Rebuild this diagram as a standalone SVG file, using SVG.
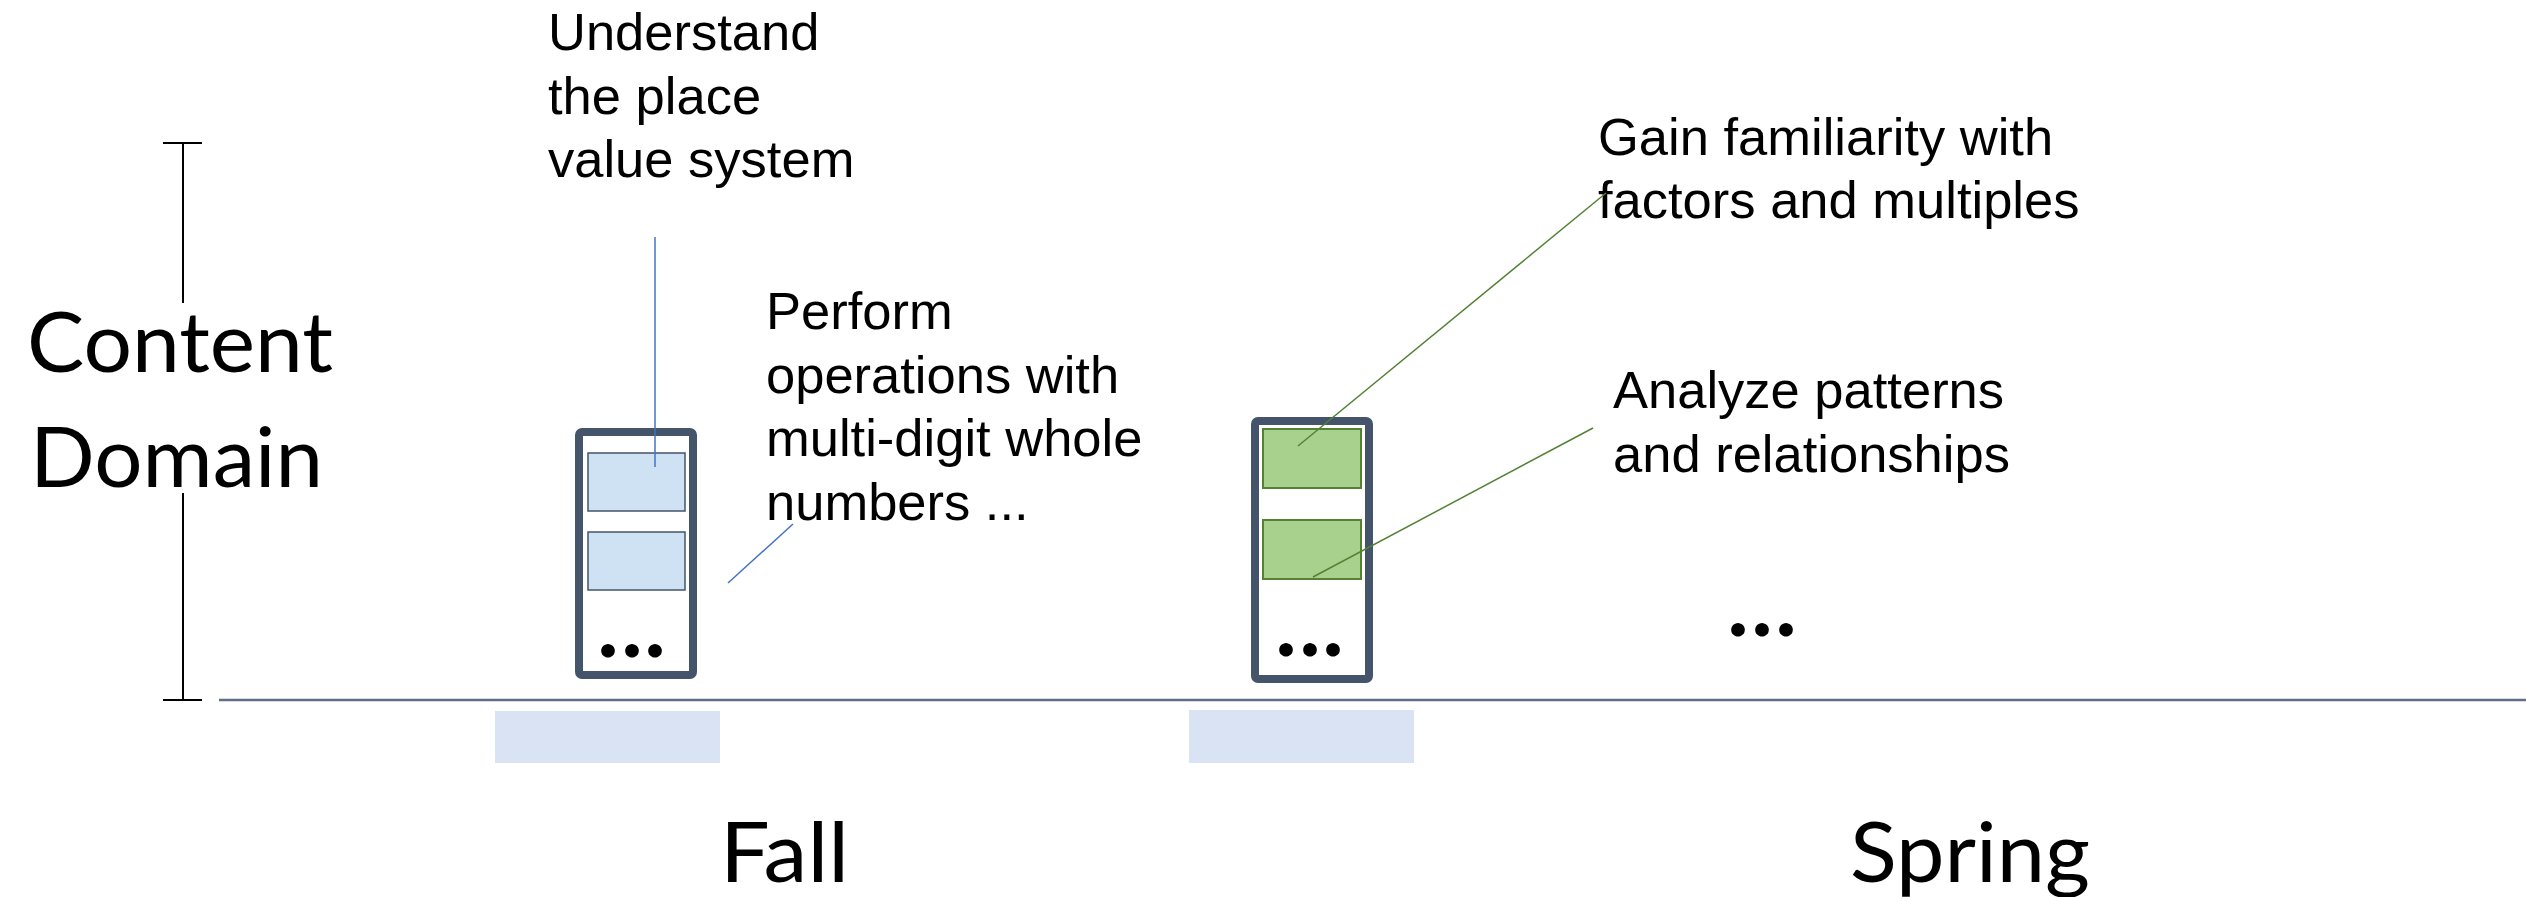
<svg xmlns="http://www.w3.org/2000/svg" width="2526" height="897" viewBox="0 0 2526 897">
<style>
.big{font-family:Lato,"Open Sans","Liberation Sans",sans-serif;font-size:84px;fill:#000}
.lbl{font-family:"Liberation Sans",Arial,sans-serif;font-size:52.5px;fill:#000}
.dots{font-family:Lato,"Liberation Sans",sans-serif;font-size:84px;font-weight:900;fill:#000}
.frame{fill:#fff;stroke:#44546A;stroke-width:8}
.cellB{fill:#CFE2F3;stroke:#44546A;stroke-width:1.5}
.cellG{fill:#A9D18E;stroke:#548235;stroke-width:2}
.term{fill:#DAE3F3}
.axis{stroke:#000;stroke-width:2;fill:none}
.cb{stroke:#4472C4;stroke-width:1.5;fill:none}
.cg{stroke:#548235;stroke-width:1.5;fill:none}
</style>
<rect width="2526" height="897" fill="#fff"/>
<g id="content-domain-axis">
<path class="axis" d="M163 143H202M183 143V303M183 493V700M163 700H202"/>
<text class="big" x="27" y="372" textLength="306" lengthAdjust="spacingAndGlyphs">Content</text>
<text class="big" x="30" y="487" textLength="293" lengthAdjust="spacingAndGlyphs">Domain</text>
</g>
<g id="timeline">
<line x1="219" y1="700" x2="2526" y2="700" stroke="#5F6F88" stroke-width="2.5"/>
<rect class="term" x="495" y="711" width="225" height="52"/>
<rect class="term" x="1189" y="710" width="225" height="53"/>
<text class="big" x="720" y="882" textLength="129" lengthAdjust="spacingAndGlyphs">Fall</text>
<text class="big" x="1850" y="882" textLength="240" lengthAdjust="spacingAndGlyphs">Spring</text>
</g>
<g id="fall-unit">
<rect class="frame" x="579" y="432" width="114" height="243" rx="3"/>
<rect class="cellB" x="588" y="453" width="97" height="58"/>
<rect class="cellB" x="588" y="532" width="97" height="58"/>
<text class="dots" x="608 632 655" y="657" text-anchor="middle">...</text>
</g>
<g id="spring-unit">
<rect class="frame" x="1255" y="421" width="114" height="258" rx="3"/>
<rect class="cellG" x="1263" y="429" width="98" height="59"/>
<rect class="cellG" x="1263" y="520" width="98" height="59"/>
<text class="dots" x="1286 1310 1333" y="656" text-anchor="middle">...</text>
</g>
<g id="label-place-value">
<text class="lbl" x="548" y="50">Understand</text>
<text class="lbl" x="548" y="113.5">the place</text>
<text class="lbl" x="548" y="177">value system</text>
</g>
<g id="label-operations">
<text class="lbl" x="766" y="329">Perform</text>
<text class="lbl" x="766" y="392.5">operations with</text>
<text class="lbl" x="766" y="456">multi-digit whole</text>
<text class="lbl" x="766" y="520">numbers ...</text>
</g>
<g id="label-factors">
<text class="lbl" x="1598" y="155">Gain familiarity with</text>
<text class="lbl" x="1598" y="218">factors and multiples</text>
</g>
<g id="label-patterns">
<text class="lbl" x="1613" y="408">Analyze patterns</text>
<text class="lbl" x="1613" y="472">and relationships</text>
</g>
<g id="more">
<text class="dots" x="1738 1762 1786" y="636" text-anchor="middle">...</text>
</g>
<g id="connectors">
<line class="cb" x1="655" y1="237" x2="655" y2="467"/>
<line class="cb" x1="793" y1="524" x2="728" y2="583"/>
<line class="cg" x1="1298" y1="446" x2="1606" y2="193"/>
<line class="cg" x1="1313" y1="577" x2="1593" y2="428"/>
</g>
</svg>
